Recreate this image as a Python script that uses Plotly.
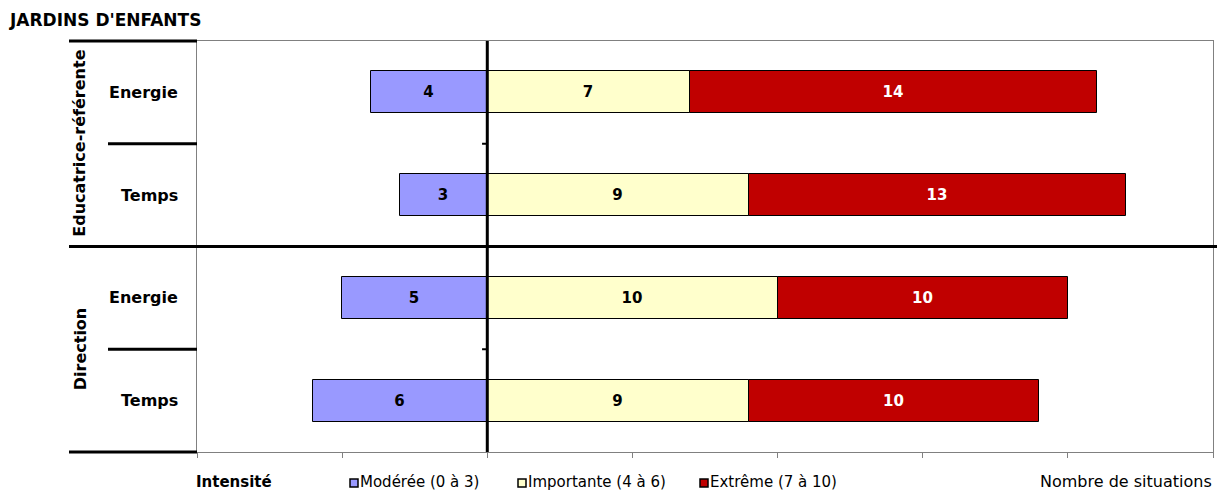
import plotly.graph_objects as go

title = "JARDINS D'ENFANTS"
groups = ["Educatrice-référente", "Direction"]
categories = ["Energie", "Temps", "Energie", "Temps"]
moderee = [4, 3, 5, 6]
importante = [7, 9, 10, 9]
extreme = [14, 13, 10, 10]
series_names = ["Modérée (0 à 3)", "Importante (4 à 6)", "Extrême (7 à 10)"]
colors = ["#9999FF", "#FFFFCC", "#C00000"]
text_colors = ["black", "black", "white"]
x_ticks = [-10, -5, 0, 5, 10, 15, 20, 25]

FONT = "DejaVu Sans, Verdana, sans-serif"
ypos = list(range(len(categories)))

fig = go.Figure()
series = [[-v for v in moderee], importante, extreme]
labels = [moderee, importante, extreme]
for vals, labs, name, col, tcol in zip(series, labels, series_names, colors, text_colors):
    fig.add_trace(go.Bar(
        y=ypos, x=vals, orientation="h", name=name,
        marker=dict(color=col, line=dict(color="black", width=1)),
        text=[str(v) for v in labs], textposition="inside",
        insidetextanchor="middle", textangle=0, constraintext="none",
        textfont=dict(family=FONT, size=15, color=tcol, weight="bold"),
        width=0.41, showlegend=False, hoverinfo="skip",
    ))

L, R, T, B = 197, 4, 41, 40
W, H = 1217, 492
pw = W - L - R
ph = H - T - B

def px(xp):
    return (xp - L) / pw

def py(yp):
    return 1 - (yp - T) / ph

fig.update_layout(
    width=W, height=H,
    margin=dict(l=L, r=R, t=T, b=B),
    barmode="relative", bargap=0,
    plot_bgcolor="white", paper_bgcolor="white",
    font=dict(family=FONT, size=13, color="black"),
    showlegend=False,
)
fig.update_xaxes(range=[x_ticks[0], x_ticks[-1]], tickvals=x_ticks, showticklabels=False,
                 ticks="outside", ticklen=5, tickcolor="#808080",
                 showline=True, linecolor="#808080", linewidth=1, mirror=True,
                 showgrid=False, zeroline=False)
fig.update_yaxes(range=[len(categories) - 0.5, -0.5], showticklabels=False,
                 showline=True, linecolor="#808080", linewidth=1, mirror=True,
                 showgrid=False, zeroline=False, ticks="")

shapes = []
# zero line
shapes.append(dict(type="line", xref="x", yref="paper", x0=0, x1=0, y0=0, y1=1,
                   line=dict(color="black", width=3)))
# group separator across
shapes.append(dict(type="line", xref="paper", yref="y", x0=px(69), x1=px(1217), y0=1.5, y1=1.5,
                   line=dict(color="black", width=3)))
# top & bottom left dividers
for yv in [1, 0]:
    shapes.append(dict(type="line", xref="paper", yref="paper", x0=px(69), x1=0, y0=yv, y1=yv,
                       line=dict(color="black", width=3)))
# sub dividers
for yv in [0.5, 2.5]:
    shapes.append(dict(type="line", xref="paper", yref="y", x0=px(108), x1=0, y0=yv, y1=yv,
                       line=dict(color="black", width=3)))
    shapes.append(dict(type="line", xref="x", yref="y", x0=-0.18, x1=0, y0=yv, y1=yv,
                       line=dict(color="black", width=2)))

annotations = []
annotations.append(dict(text="<b>" + title + "</b>", xref="paper", yref="paper", x=px(7), y=py(20),
                        xanchor="left", yanchor="middle", showarrow=False,
                        font=dict(family=FONT, size=17, color="black")))
for i, c in enumerate(categories):
    annotations.append(dict(text="<b>" + c + "</b>", xref="paper", yref="y", x=px(180), y=i,
                            xanchor="right", yanchor="middle", showarrow=False,
                            font=dict(family=FONT, size=16, color="black")))
for g, yc in zip(groups, [0.5, 2.5]):
    annotations.append(dict(text="<b>" + g + "</b>", xref="paper", yref="y", x=px(80), y=yc,
                            xanchor="center", yanchor="middle", textangle=-90, showarrow=False,
                            font=dict(family=FONT, size=16, color="black")))

# legend row
leg_y = py(482)
annotations.append(dict(text="<b>Intensité</b>", xref="paper", yref="paper", x=px(194), y=leg_y,
                        xanchor="left", yanchor="middle", showarrow=False,
                        font=dict(family=FONT, size=15, color="black")))
sq_x = [350, 518, 700]
for sx, name, col in zip(sq_x, series_names, colors):
    shapes.append(dict(type="rect", xref="paper", yref="paper",
                       x0=px(sx), x1=px(sx + 8), y0=py(487), y1=py(479),
                       fillcolor=col, line=dict(color="black", width=1.5)))
    annotations.append(dict(text=name, xref="paper", yref="paper", x=px(sx + 8), y=leg_y,
                            xanchor="left", yanchor="middle", showarrow=False,
                            font=dict(family=FONT, size=15, color="black")))
annotations.append(dict(text="Nombre de situations", xref="paper", yref="paper", x=px(1214), y=leg_y,
                        xanchor="right", yanchor="middle", showarrow=False,
                        font=dict(family=FONT, size=16, color="black")))

fig.update_layout(shapes=shapes, annotations=annotations)
fig.write_html("out.html", config={"displayModeBar": False},
               post_script="document.body.style.margin='0';")
